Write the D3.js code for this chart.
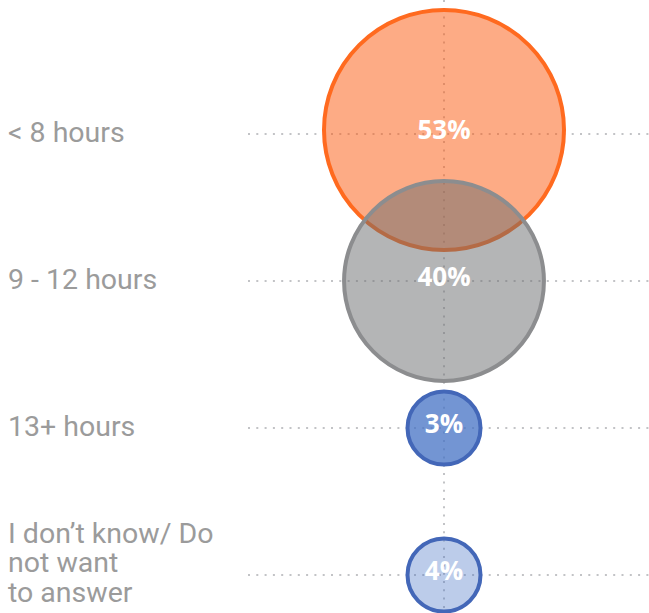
<!DOCTYPE html>
<html>
<head>
<meta charset="utf-8">
<script src="https://cdn.jsdelivr.net/npm/d3@7"></script>
<style>
  html, body { margin: 0; padding: 0; background: #fff; }
  svg { display: block; }
</style>
</head>
<body>
<svg id="chart" width="649" height="613"></svg>
<script>
// ---- data ----
const categories = ["< 8 hours", "9 - 12 hours", "13+ hours", "I don\u2019t know/ Do not want to answer"];
const labelLines = [["< 8 hours"], ["9 - 12 hours"], ["13+ hours"], ["I don\u2019t know/ Do", "not want", "to answer"]];
const values = [53, 40, 3, 4];
const valueLabels = ["53%", "40%", "3%", "4%"];
const fills = ["rgba(251,87,11,0.5)", "rgba(106,107,109,0.5)", "rgba(68,114,196,0.75)", "rgba(68,114,196,0.36)"];
const strokes = ["#FF6A1F", "#8C8D8F", "#4367B8", "#4367B8"];

// ---- layout ----
const W = 649, H = 613;
const cx = 444;
const svg = d3.select("#chart");

const y = d3.scalePoint().domain(categories).range([134, 575]);
const r = d3.scalePow().exponent(0.65).domain([0, 53]).range([0, 120]);
const minR = 36.5;
const radius = v => Math.max(minR, r(v));

const data = categories.map((c, i) => ({ c, v: values[i], lab: valueLabels[i], lines: labelLines[i], fill: fills[i], stroke: strokes[i] }));

// gridlines
const grid = svg.append("g");
grid.append("line")
  .attr("x1", cx).attr("x2", cx).attr("y1", 0).attr("y2", H)
  .attr("stroke", "#C2C3C6").attr("stroke-width", 2)
  .attr("stroke-dasharray", "2,6.3");
grid.selectAll("line.h").data(data).join("line")
  .attr("class", "h")
  .attr("x1", 248).attr("x2", W)
  .attr("y1", d => y(d.c)).attr("y2", d => y(d.c))
  .attr("stroke", "#C2C3C6").attr("stroke-width", 2)
  .attr("stroke-dasharray", "2,6.3");

// bubbles
svg.append("g").selectAll("circle").data(data).join("circle")
  .attr("cx", cx)
  .attr("cy", d => y(d.c) - (d.v > 50 ? 4 : 0))
  .attr("r", d => radius(d.v))
  .attr("fill", d => d.fill)
  .attr("stroke", d => d.stroke)
  .attr("stroke-width", 4);

// value labels
svg.append("g").selectAll("text").data(data).join("text")
  .attr("x", cx)
  .attr("y", d => y(d.c) + 5)
  .attr("text-anchor", "middle")
  .attr("font-family", "'Open Sans', sans-serif")
  .attr("font-weight", "bold")
  .attr("font-size", 26)
  .attr("fill", "#fff")
  .text(d => d.lab);

// category labels
const cat = svg.append("g").selectAll("text").data(data).join("text")
  .attr("font-family", "Roboto, sans-serif")
  .attr("font-size", 28.5)
  .attr("fill", "#9B9B9B");
cat.each(function(d) {
  const n = d.lines.length;
  const base = y(d.c) + 7.5 - (n - 1) * 20;
  d3.select(this).selectAll("tspan").data(d.lines).join("tspan")
    .attr("x", 8)
    .attr("y", (t, i) => base + i * 29.5)
    .text(t => t);
});
</script>
</body>
</html>
